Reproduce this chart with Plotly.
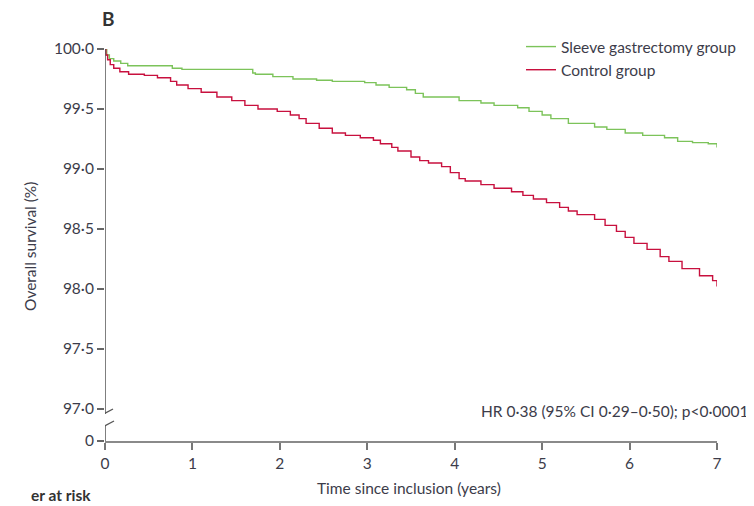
import plotly.graph_objects as go

# ---- data ----
sleeve_t = [0, 0.02, 0.05, 0.10, 0.18, 0.26, 0.77, 0.88, 1.69, 1.72, 1.92, 2.15, 2.42, 2.60,
            2.97, 3.10, 3.25, 3.45, 3.55, 3.64, 4.05, 4.30, 4.45, 4.72, 4.85, 5.00, 5.10, 5.30,
            5.60, 5.74, 5.95, 6.15, 6.40, 6.55, 6.72, 6.90, 7.00]
sleeve_s = [100.0, 99.95, 99.92, 99.90, 99.88, 99.86, 99.84, 99.83, 99.80, 99.79, 99.77, 99.75,
            99.74, 99.73, 99.72, 99.70, 99.68, 99.66, 99.63, 99.60, 99.57, 99.55, 99.53, 99.51,
            99.48, 99.45, 99.42, 99.38, 99.35, 99.33, 99.30, 99.28, 99.26, 99.23, 99.22, 99.21,
            99.18]

control_t = [0, 0.01, 0.03, 0.06, 0.10, 0.17, 0.27, 0.45, 0.60, 0.75, 0.82, 0.95, 1.10, 1.28,
             1.45, 1.60, 1.75, 1.97, 2.12, 2.22, 2.30, 2.45, 2.60, 2.75, 2.92, 3.07, 3.15, 3.28,
             3.35, 3.50, 3.60, 3.70, 3.85, 3.95, 4.05, 4.12, 4.30, 4.45, 4.65, 4.78, 4.90, 5.05,
             5.20, 5.30, 5.40, 5.60, 5.72, 5.85, 5.95, 6.05, 6.20, 6.35, 6.45, 6.60, 6.80, 6.95,
             7.00]
control_s = [100.0, 99.95, 99.91, 99.87, 99.84, 99.81, 99.79, 99.78, 99.76, 99.73, 99.70, 99.67,
             99.64, 99.60, 99.57, 99.53, 99.50, 99.48, 99.45, 99.42, 99.38, 99.34, 99.30, 99.28,
             99.26, 99.24, 99.21, 99.18, 99.15, 99.10, 99.07, 99.05, 99.02, 98.97, 98.92, 98.90,
             98.87, 98.84, 98.81, 98.78, 98.75, 98.72, 98.68, 98.65, 98.62, 98.58, 98.53, 98.48,
             98.43, 98.38, 98.33, 98.27, 98.23, 98.17, 98.11, 98.07, 98.02]

x_ticks = [0, 1, 2, 3, 4, 5, 6, 7]
y_tick_vals = [97.0, 97.5, 98.0, 98.5, 99.0, 99.5, 100.0]
y_tick_text = ["97·0", "97·5", "98·0", "98·5", "99·0", "99·5", "100·0"]
zero_label = "0"

# ---- layout constants (page has an 8px body margin, so the figure is 746x498) ----
OFF = 8
W, H = 754 - OFF, 506 - OFF
L, R, T, B = 105 - OFF, 37, 49 - OFF, 65
pw, ph = W - L - R, H - T - B
Y_ZERO = 100 - 392 / 120.0   # position where "0" sits below the axis break
px_x = pw / 7.0
FONT = "Lato"
TXT = "#3c3c4a"
GREEN = "#7cc35a"
RED = "#c8103e"
FS = 15.5

def ypx(p):
    # reference-picture pixel row -> y data value
    return 100 - (p - 49) / 120.0

def px_to_paper_x(px):
    return (px - OFF - L) / pw

def px_to_paper_y(py):
    return (H - B - (py - OFF)) / ph

fig = go.Figure()
fig.add_trace(go.Scatter(x=sleeve_t, y=sleeve_s, mode="lines", line_shape="hv",
                         line=dict(color=GREEN, width=1.4), name="Sleeve gastrectomy group"))
fig.add_trace(go.Scatter(x=control_t, y=control_s, mode="lines", line_shape="hv",
                         line=dict(color=RED, width=1.4), name="Control group"))

shapes = [
    dict(type="line", xref="x", yref="y", x0=0, x1=0, y0=ypx(414), y1=100,
         line=dict(color="#555555", width=1.5), layer="above"),
    dict(type="line", xref="x", yref="y", x0=0, x1=0, y0=Y_ZERO, y1=ypx(426),
         line=dict(color="#555555", width=1.5), layer="above"),
    dict(type="line", xref="x", yref="y", x0=-8 / px_x, x1=8 / px_x, y0=ypx(417.5), y1=ypx(409),
         line=dict(color="#555555", width=1.3), layer="above"),
    dict(type="line", xref="x", yref="y", x0=-8 / px_x, x1=9 / px_x, y0=ypx(430), y1=ypx(421),
         line=dict(color="#555555", width=1.3), layer="above"),
]

fig.update_layout(
    width=W, height=H,
    margin=dict(l=L, r=R, t=T, b=B, autoexpand=False),
    paper_bgcolor="white", plot_bgcolor="white",
    font=dict(family=FONT, size=FS, color=TXT),
    showlegend=True,
    legend=dict(x=px_to_paper_x(521), y=px_to_paper_y(30), xanchor="left", yanchor="top",
                bgcolor="rgba(0,0,0,0)", font=dict(size=FS, color=TXT),
                tracegroupgap=0, itemwidth=30),
    xaxis=dict(range=[0, 7], tickvals=x_ticks, ticktext=[str(v) for v in x_ticks],
               showline=True, linecolor="#8a8a8a", linewidth=2,
               ticks="outside", ticklen=7, tickwidth=1.5, tickcolor="#777777",
               showgrid=False, zeroline=False, tickfont=dict(size=FS, color=TXT)),
    yaxis=dict(range=[Y_ZERO, 100.0], tickvals=[Y_ZERO] + y_tick_vals,
               ticktext=[zero_label] + y_tick_text,
               showline=False, ticks="outside", ticklen=7, tickwidth=1.5, tickcolor="#666666",
               showgrid=False, zeroline=False, tickfont=dict(size=FS, color=TXT)),
    shapes=shapes,
    annotations=[
        dict(text="<b>B</b>", x=px_to_paper_x(108), y=px_to_paper_y(18), xref="paper", yref="paper",
             showarrow=False, font=dict(size=19, color="#333333"), xanchor="center", yanchor="middle"),
        dict(text="Overall survival (%)", x=px_to_paper_x(30), y=px_to_paper_y(247),
             xref="paper", yref="paper", textangle=-90, showarrow=False,
             font=dict(size=FS, color=TXT), xanchor="center", yanchor="middle"),
        dict(text="Time since inclusion (years)", x=px_to_paper_x(409), y=px_to_paper_y(488),
             xref="paper", yref="paper", showarrow=False,
             font=dict(size=FS, color=TXT), xanchor="center", yanchor="middle"),
        dict(text="HR 0·38 (95% CI 0·29–0·50); p<0·0001", x=px_to_paper_x(750), y=ypx(411),
             xref="paper", yref="y", xanchor="right", yanchor="middle", showarrow=False,
             font=dict(size=FS, color=TXT)),
        dict(text="<b>er at risk</b>", x=px_to_paper_x(29), y=px_to_paper_y(495),
             xref="paper", yref="paper", xanchor="left", yanchor="middle", showarrow=False,
             font=dict(size=FS, color="#333333")),
    ],
)

fig.write_html("out.html", config={"displayModeBar": False})
